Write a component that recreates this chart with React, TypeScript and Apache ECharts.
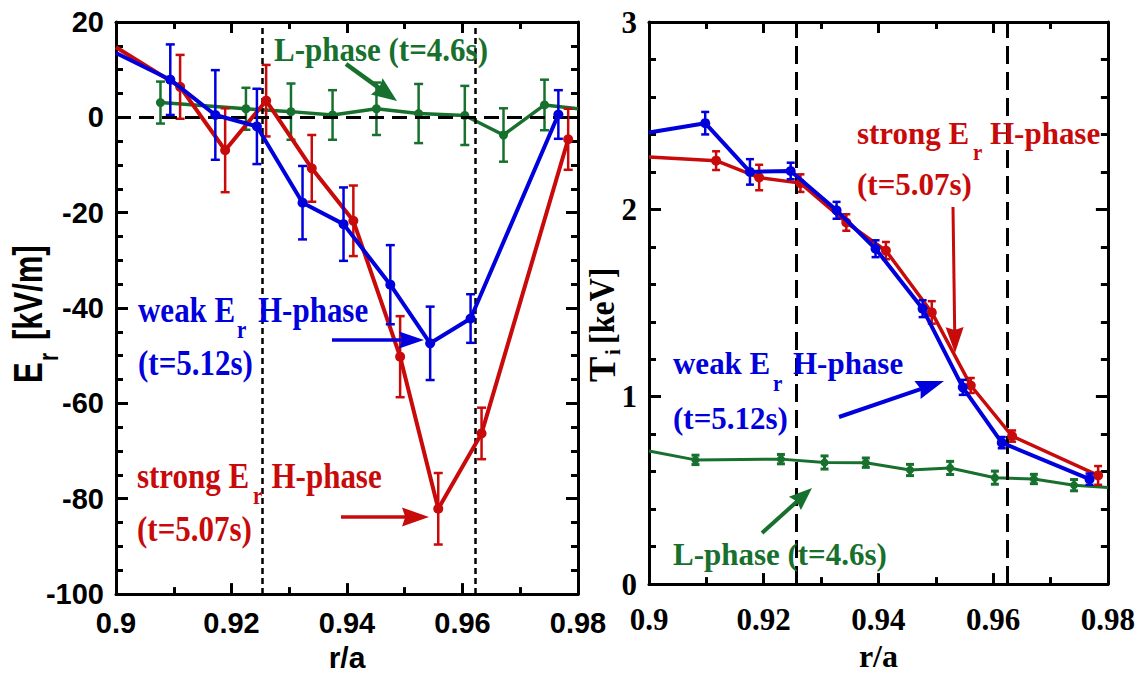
import React, { useEffect, useRef } from 'react';
import * as echarts from 'echarts';

// ---------------- Data ----------------
// Left panel: radial electric field E_r [kV/m] vs r/a
// err = 0 marks a point where the line meets the frame (no marker, no error bar)
const erBlueX = [0.9, 0.9094, 0.9172, 0.9244, 0.9323, 0.9394, 0.9475, 0.9544, 0.9614, 0.9766];
const erBlueY = [13.5, 7.9, 0.5, -1.9, -17.9, -22.4, -35.1, -47.4, -42.2, 0.6];
const erBlueErr = [0, 7.4, 9.4, 7.9, 7.7, 7.7, 8.3, 7.7, 5.1, 5.1];

const erRedX = [0.9, 0.9111, 0.9189, 0.926, 0.9339, 0.9411, 0.9492, 0.9558, 0.9633, 0.9783];
const erRedY = [14.7, 6.4, -6.9, 3.5, -10.7, -21.7, -50.2, -82.1, -66.3, -4.6];
const erRedErr = [0, 6.7, 8.8, 7.5, 7.0, 7.4, 8.5, 7.5, 5.4, 6.4];

const erGreenX = [0.9077, 0.9225, 0.9303, 0.9375, 0.9451, 0.9524, 0.9604, 0.9671, 0.9742, 0.98];
const erGreenY = [3.1, 1.8, 1.2, 0.5, 1.8, 0.8, 0.4, -3.7, 2.6, 1.8];
const erGreenErr = [4.4, 4.4, 5.9, 5.2, 5.5, 6.2, 6.2, 5.6, 5.3, 0];

// Right panel: ion temperature T_i [keV] vs r/a
const tiBlueX = [0.9, 0.9098, 0.9176, 0.9247, 0.9327, 0.9395, 0.9477, 0.9547, 0.9615, 0.9768];
const tiBlueY = [2.41, 2.46, 2.2, 2.205, 1.995, 1.79, 1.47, 1.05, 0.755, 0.56];
const tiBlueErr = [0, 0.06, 0.068, 0.044, 0.045, 0.045, 0.045, 0.04, 0.03, 0.03];

const tiRedX = [0.9, 0.9117, 0.9192, 0.9264, 0.9344, 0.9413, 0.9493, 0.9561, 0.9633, 0.9783];
const tiRedY = [2.28, 2.26, 2.17, 2.14, 1.93, 1.78, 1.45, 1.06, 0.79, 0.58];
const tiRedErr = [0, 0.05, 0.068, 0.047, 0.044, 0.046, 0.06, 0.04, 0.03, 0.05];

const tiGreenX = [0.9, 0.9081, 0.923, 0.9306, 0.9378, 0.9455, 0.9525, 0.9603, 0.9671, 0.9741, 0.98];
const tiGreenY = [0.71, 0.663, 0.667, 0.649, 0.648, 0.609, 0.62, 0.568, 0.561, 0.528, 0.516];
const tiGreenErr = [0, 0.025, 0.025, 0.035, 0.025, 0.03, 0.035, 0.035, 0.025, 0.03, 0];

// Vertical reference lines (r/a)
const leftRefX = [0.9254, 0.9622];
const rightRefX = [0.9256, 0.9624];

// Axis ranges
const xRange = [0.9, 0.98];
const xStep = 0.02;
const erRange = [-100, 20];
const erStep = 20;
const tiRange = [0, 3];
const tiStep = 1;

// ---------------- Styles ----------------
const BLUE = '#0000dc';
const RED = '#c80a0a';
const GREEN = '#17702d';
const SANS = 'Liberation Sans';
const SERIF = 'Liberation Serif';

function lineData(xs: number[], ys: number[], es: number[]) {
  return xs.map((x, i) => (es[i] === 0 ? { value: [x, ys[i]], symbol: 'none' } : [x, ys[i]]));
}

function errData(xs: number[], ys: number[], es: number[]) {
  const out: number[][] = [];
  xs.forEach((x, i) => {
    if (es[i] > 0) out.push([x, ys[i] - es[i], ys[i] + es[i]]);
  });
  return out;
}

function errSeries(data: number[][], axis: number, color: string, width: number, cap: number, z: number) {
  return {
    type: 'custom',
    xAxisIndex: axis,
    yAxisIndex: axis,
    data,
    z,
    silent: true,
    clip: true,
    encode: { x: 0, y: [1, 2] },
    renderItem: (_p: any, api: any) => {
      const x = api.value(0);
      const lo = api.coord([x, api.value(1)]);
      const hi = api.coord([x, api.value(2)]);
      const st = { stroke: color, lineWidth: width };
      return {
        type: 'group',
        children: [
          { type: 'line', shape: { x1: lo[0], y1: lo[1], x2: hi[0], y2: hi[1] }, style: st },
          { type: 'line', shape: { x1: lo[0] - cap / 2, y1: lo[1], x2: lo[0] + cap / 2, y2: lo[1] }, style: st },
          { type: 'line', shape: { x1: hi[0] - cap / 2, y1: hi[1], x2: hi[0] + cap / 2, y2: hi[1] }, style: st },
        ],
      };
    },
  };
}

function lineSeries(data: any[], axis: number, color: string, width: number, size: number, z: number, extra: any = {}) {
  return {
    type: 'line',
    xAxisIndex: axis,
    yAxisIndex: axis,
    data,
    z,
    silent: true,
    clip: true,
    symbol: 'circle',
    symbolSize: size,
    showSymbol: true,
    showAllSymbol: true,
    lineStyle: { color, width },
    itemStyle: { color },
    ...extra,
  };
}

const tickLine = { color: '#000', width: 3 };

function xAxisCfg(grid: number, position: string, label: any, name?: any) {
  return {
    type: 'value',
    gridIndex: grid,
    position,
    min: xRange[0],
    max: xRange[1],
    interval: xStep,
    axisLine: { show: true, onZero: false, lineStyle: { color: '#000', width: 3 } },
    axisTick: { show: true, inside: true, length: 11, lineStyle: tickLine },
    minorTick: { show: true, splitNumber: 2, length: 7, lineStyle: tickLine },
    splitLine: { show: false },
    minorSplitLine: { show: false },
    axisLabel: label
      ? {
          show: true,
          formatter: (v: number) => String(parseFloat(v.toFixed(2))),
          showMinLabel: true,
          showMaxLabel: true,
          ...label,
        }
      : { show: false },
    ...(name || {}),
  };
}

function yAxisCfg(grid: number, position: string, range: number[], step: number, minorSplit: number, label: any) {
  return {
    type: 'value',
    gridIndex: grid,
    position,
    min: range[0],
    max: range[1],
    interval: step,
    axisLine: { show: true, onZero: false, lineStyle: { color: '#000', width: 3 } },
    axisTick: { show: true, inside: true, length: 12, lineStyle: tickLine },
    minorTick: { show: true, splitNumber: minorSplit, length: 7, lineStyle: tickLine },
    splitLine: { show: false },
    minorSplitLine: { show: false },
    axisLabel: label ? { show: true, showMinLabel: true, showMaxLabel: true, ...label } : { show: false },
  };
}

// ---------------- Annotation helpers (graphic) ----------------
function txt(x: number, y: number, text: string, color: string, font: string, sy = 1) {
  return {
    type: 'text',
    x,
    y,
    scaleY: sy,
    z: 100,
    silent: true,
    style: {
      text,
      fill: color,
      font,
      align: 'left',
      verticalAlign: 'middle',
      textAlign: 'left',
      textVerticalAlign: 'middle',
    },
  };
}

function arrow(x1: number, y1: number, x2: number, y2: number, color: string, lw: number, L: number, W: number) {
  const dx = x2 - x1;
  const dy = y2 - y1;
  const len = Math.hypot(dx, dy);
  const ux = dx / len;
  const uy = dy / len;
  const bx = x2 - ux * L;
  const by = y2 - uy * L;
  const nx = -uy;
  const ny = ux;
  return [
    {
      type: 'line',
      z: 100,
      silent: true,
      shape: { x1, y1, x2: bx + ux * 4, y2: by + uy * 4 },
      style: { stroke: color, lineWidth: lw },
    },
    {
      type: 'polygon',
      z: 100,
      silent: true,
      shape: {
        points: [
          [x2, y2],
          [bx + nx * W, by + ny * W],
          [bx + ux * L * 0.12, by + uy * L * 0.12],
          [bx - nx * W, by - ny * W],
        ],
      },
      style: { fill: color },
    },
  ];
}

function phaseLabel(
  x0: number,
  y: number,
  prefix: string,
  subDx: number,
  restDx: number,
  line2: string,
  y2: number,
  color: string,
  sy: number
) {
  const f = `bold 31px "${SERIF}"`;
  const fs = `bold 21px "${SERIF}"`;
  return [
    txt(x0, y, prefix, color, f, sy),
    txt(x0 + subDx, y + 20, 'r', color, fs, sy),
    txt(x0 + restDx, y, 'H-phase', color, f, sy),
    txt(x0, y2, line2, color, f, sy),
  ];
}

function buildGraphic() {
  const els: any[] = [];
  // Left y-axis name: E_r [kV/m]
  els.push({
    type: 'group',
    x: 27.5,
    y: 383,
    rotation: Math.PI / 2,
    scaleY: 1.3,
    silent: true,
    children: [
      txt(0, 0, 'E', '#000', `bold 31px "${SANS}"`),
      txt(22, 16, 'r', '#000', `bold 21px "${SANS}"`),
      txt(43, 0, '[kV/m]', '#000', `bold 31px "${SANS}"`),
    ],
  });
  // Right y-axis name: T_i[keV]
  els.push({
    type: 'group',
    x: 601.5,
    y: 382,
    rotation: Math.PI / 2,
    silent: true,
    children: [
      txt(0, 0, 'T', '#000', `bold 38px "${SERIF}"`),
      txt(27, 11, 'i', '#000', `bold 21px "${SERIF}"`),
      txt(38, 0, '[keV]', '#000', `bold 32px "${SERIF}"`, 1.1),
    ],
  });

  // Left panel annotations
  els.push(txt(274, 49.5, 'L-phase (t=4.6s)', GREEN, `bold 31px "${SERIF}"`, 1.12));
  els.push(...arrow(346, 64, 397, 101, GREEN, 4.5, 25, 10));
  els.push(...phaseLabel(138, 310, 'weak E', 99, 120, '(t=5.12s)', 362.5, BLUE, 1.17));
  els.push(...arrow(332, 340, 424, 340, BLUE, 3.5, 25, 8.5));
  els.push(...phaseLabel(137, 475.5, 'strong E', 116, 134.5, '(t=5.07s)', 529, RED, 1.17));
  els.push(...arrow(341, 517, 429, 517, RED, 3.5, 27, 9.5));

  // Right panel annotations
  els.push(...phaseLabel(857, 133, 'strong E', 116, 133, '(t=5.07s)', 184.5, RED, 1.05));
  els.push(...arrow(953, 207, 955, 353, RED, 3, 26, 9));
  els.push(...phaseLabel(673, 363.5, 'weak E', 100, 120, '(t=5.12s)', 418, BLUE, 1.05));
  els.push(...arrow(839, 417, 944, 381, BLUE, 4, 28, 9.5));
  els.push(txt(673, 554.5, 'L-phase (t=4.6s)', GREEN, `bold 31px "${SERIF}"`, 1.05));
  els.push(...arrow(762, 533, 812, 488, GREEN, 4, 23, 9));
  return els;
}

function buildOption() {
  const sansLabel = { color: '#000', fontFamily: SANS, fontWeight: 'bold', fontSize: 29 };
  const serifLabel = { color: '#000', fontFamily: SERIF, fontWeight: 'bold', fontSize: 31 };

  const leftMarks = {
    markLine: {
      silent: true,
      precision: 5,
      symbol: ['none', 'none'],
      label: { show: false },
      data: [
        ...leftRefX.map((x) => ({ xAxis: x, lineStyle: { color: '#000', width: 2.5, type: [6, 4] } })),
        { yAxis: 0, lineStyle: { color: '#000', width: 3, type: [15, 8] } },
      ],
    },
  };
  const rightMarks = {
    markLine: {
      silent: true,
      precision: 5,
      symbol: ['none', 'none'],
      label: { show: false },
      data: rightRefX.map((x) => ({ xAxis: x, lineStyle: { color: '#000', width: 3, type: [18, 8] } })),
    },
  };

  return {
    animation: false,
    backgroundColor: '#ffffff',
    grid: [
      { left: 116, top: 22, width: 462, height: 576 },
      { left: 649, top: 22, width: 460, height: 577 },
    ],
    xAxis: [
      xAxisCfg(0, 'bottom', { ...sansLabel, margin: 14 }, {
        name: 'r/a',
        nameLocation: 'middle',
        nameGap: 47,
        nameTextStyle: { color: '#000', fontFamily: SANS, fontWeight: 'bold', fontSize: 30 },
      }),
      xAxisCfg(0, 'top', null),
      xAxisCfg(1, 'bottom', { ...serifLabel, margin: 20 }, {
        name: 'r/a',
        nameLocation: 'middle',
        nameGap: 46,
        nameTextStyle: { color: '#000', fontFamily: SERIF, fontWeight: 'bold', fontSize: 32 },
      }),
      xAxisCfg(1, 'top', null),
    ],
    yAxis: [
      yAxisCfg(0, 'left', erRange, erStep, 4, { ...sansLabel, margin: 12 }),
      yAxisCfg(0, 'right', erRange, erStep, 4, null),
      yAxisCfg(1, 'left', tiRange, tiStep, 5, { ...serifLabel, margin: 12 }),
      yAxisCfg(1, 'right', tiRange, tiStep, 5, null),
    ],
    series: [
      // Left panel
      errSeries(errData(erGreenX, erGreenY, erGreenErr), 0, GREEN, 2.5, 9, 2),
      lineSeries(lineData(erGreenX, erGreenY, erGreenErr), 0, GREEN, 3.5, 9, 3, leftMarks),
      errSeries(errData(erRedX, erRedY, erRedErr), 0, RED, 2.5, 9, 4),
      lineSeries(lineData(erRedX, erRedY, erRedErr), 0, RED, 4, 10, 5),
      errSeries(errData(erBlueX, erBlueY, erBlueErr), 0, BLUE, 2.5, 9, 6),
      lineSeries(lineData(erBlueX, erBlueY, erBlueErr), 0, BLUE, 4, 10, 7),
      // Right panel
      errSeries(errData(tiGreenX, tiGreenY, tiGreenErr), 2, GREEN, 3, 8, 2),
      lineSeries(lineData(tiGreenX, tiGreenY, tiGreenErr), 2, GREEN, 3, 8, 3, rightMarks),
      errSeries(errData(tiRedX, tiRedY, tiRedErr), 2, RED, 2.5, 8, 4),
      lineSeries(lineData(tiRedX, tiRedY, tiRedErr), 2, RED, 3.5, 10, 5),
      errSeries(errData(tiBlueX, tiBlueY, tiBlueErr), 2, BLUE, 2.5, 8, 6),
      lineSeries(lineData(tiBlueX, tiBlueY, tiBlueErr), 2, BLUE, 4, 10, 7),
    ],
    graphic: buildGraphic(),
  };
}

export default function App() {
  const ref = useRef<HTMLDivElement>(null);
  useEffect(() => {
    if (!ref.current) return;
    const chart = echarts.init(ref.current, null, { renderer: 'svg' });
    chart.setOption(buildOption() as any);
    return () => chart.dispose();
  }, []);
  return (
    <div
      ref={ref}
      style={{ position: 'absolute', left: 0, top: 0, width: 1138, height: 677, background: '#fff' }}
    />
  );
}
